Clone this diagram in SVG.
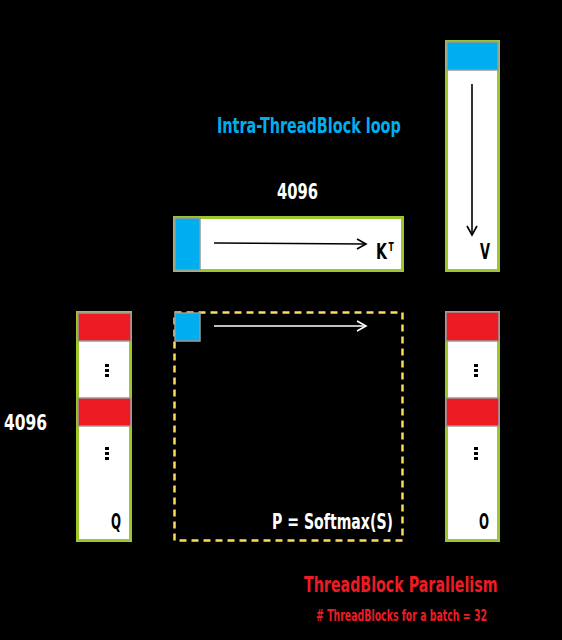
<svg xmlns="http://www.w3.org/2000/svg" width="562" height="640" viewBox="0 0 562 640">
<defs>
<style>
.mat{fill:#ffffff;stroke:#9dc62d;stroke-width:3}
.red{fill:#ed1c24;stroke:#999999;stroke-width:1.5}
.blue{fill:#00aeef;stroke:#999999;stroke-width:1.5}
.t{font-family:"DejaVu Sans Condensed","DejaVu Sans","Liberation Sans",sans-serif;font-weight:bold;font-stretch:condensed}
.w{fill:#ffffff}
.k{fill:#000000}
.d{fill:#000000}
</style>
<marker id="ab" markerWidth="12" markerHeight="12" refX="10" refY="6" orient="auto" markerUnits="userSpaceOnUse">
<path d="M1,1 L10,6 L1,11" fill="none" stroke="#000" stroke-width="1.6"/>
</marker>
<marker id="aw" markerWidth="12" markerHeight="12" refX="10" refY="6" orient="auto" markerUnits="userSpaceOnUse">
<path d="M1,1 L10,6 L1,11" fill="none" stroke="#fff" stroke-width="1.6"/>
</marker>
</defs>
<rect width="562" height="640" fill="#000"/>

<g id="label-intra" transform="translate(217,133) scale(0.75,1)"><text class="t" x="0" y="0" font-size="22" fill="#00aeef" textLength="245" lengthAdjust="spacingAndGlyphs">Intra-ThreadBlock loop</text></g>
<g id="label-4096-top"><text class="t w" x="277" y="199" font-size="22" textLength="41" lengthAdjust="spacingAndGlyphs">4096</text></g>
<g id="label-4096-left"><text class="t w" x="4" y="430" font-size="22" textLength="43" lengthAdjust="spacingAndGlyphs">4096</text></g>

<g id="KT">
<rect class="mat" x="174.5" y="217.5" width="228" height="53"/>
<rect class="blue" x="175" y="218" width="25" height="52"/>
<g transform="translate(376,259) scale(0.75,1)"><text class="t k" x="0" y="0" font-size="21" textLength="14.5" lengthAdjust="spacingAndGlyphs">K</text></g>
<g transform="translate(388.5,251) scale(0.75,1)"><text class="t k" x="0" y="0" font-size="12" textLength="7" lengthAdjust="spacingAndGlyphs">T</text></g>
</g>

<g id="V">
<rect class="mat" x="446.5" y="41.5" width="52" height="229"/>
<rect class="blue" x="447" y="42" width="51" height="28"/>
<text class="t k" x="480" y="259" font-size="21" textLength="10" lengthAdjust="spacingAndGlyphs">V</text>
</g>

<g id="Q">
<rect class="mat" x="77.5" y="312.5" width="53" height="228"/>
<rect class="red" x="78" y="313" width="53" height="28"/>
<rect class="red" x="78" y="398" width="53" height="28"/>
<rect class="d" x="105" y="364" width="4" height="3"/><rect class="d" x="105" y="369" width="4" height="3"/><rect class="d" x="105" y="374" width="4" height="3"/>
<rect class="d" x="105" y="447" width="4" height="3"/><rect class="d" x="105" y="452" width="4" height="3"/><rect class="d" x="105" y="457" width="4" height="3"/>
<text class="t k" x="111" y="529" font-size="21" textLength="10" lengthAdjust="spacingAndGlyphs">Q</text>
</g>

<g id="O">
<rect class="mat" x="446.5" y="312.5" width="52" height="228"/>
<rect class="red" x="446" y="312" width="53" height="29"/>
<rect class="red" x="446" y="398" width="53" height="28"/>
<rect class="d" x="474" y="364" width="4" height="3"/><rect class="d" x="474" y="369" width="4" height="3"/><rect class="d" x="474" y="374" width="4" height="3"/>
<rect class="d" x="474" y="447" width="4" height="3"/><rect class="d" x="474" y="452" width="4" height="3"/><rect class="d" x="474" y="457" width="4" height="3"/>
<text class="t k" x="479" y="529" font-size="21" textLength="10" lengthAdjust="spacingAndGlyphs">O</text>
</g>

<g id="P">
<rect x="174.5" y="312.5" width="228" height="228" fill="none" stroke="#ffd95a" stroke-width="2.5" stroke-dasharray="7,5"/>
<rect class="blue" x="175" y="313" width="25" height="28"/>
<text class="t w" x="272" y="529" font-size="21" textLength="121" lengthAdjust="spacingAndGlyphs">P = Softmax(S)</text>
</g>

<g id="labels-bottom">
<g transform="translate(304,592) scale(0.75,1)"><text class="t" x="0" y="0" font-size="22" fill="#ed1c24" textLength="258" lengthAdjust="spacingAndGlyphs">ThreadBlock Parallelism</text></g>
<g transform="translate(316,621) scale(0.75,1)"><text class="t" x="0" y="0" font-size="16" fill="#ed1c24" textLength="228" lengthAdjust="spacingAndGlyphs"># ThreadBlocks for a batch = 32</text></g>
</g>

<g id="connectors">
<line x1="214" y1="243" x2="366" y2="244" stroke="#000" stroke-width="1.6" marker-end="url(#ab)"/>
<line x1="472" y1="84" x2="472" y2="235" stroke="#000" stroke-width="1.6" marker-end="url(#ab)"/>
<line x1="214" y1="326" x2="366" y2="326" stroke="#fff" stroke-width="1.6" marker-end="url(#aw)"/>
</g>
</svg>
